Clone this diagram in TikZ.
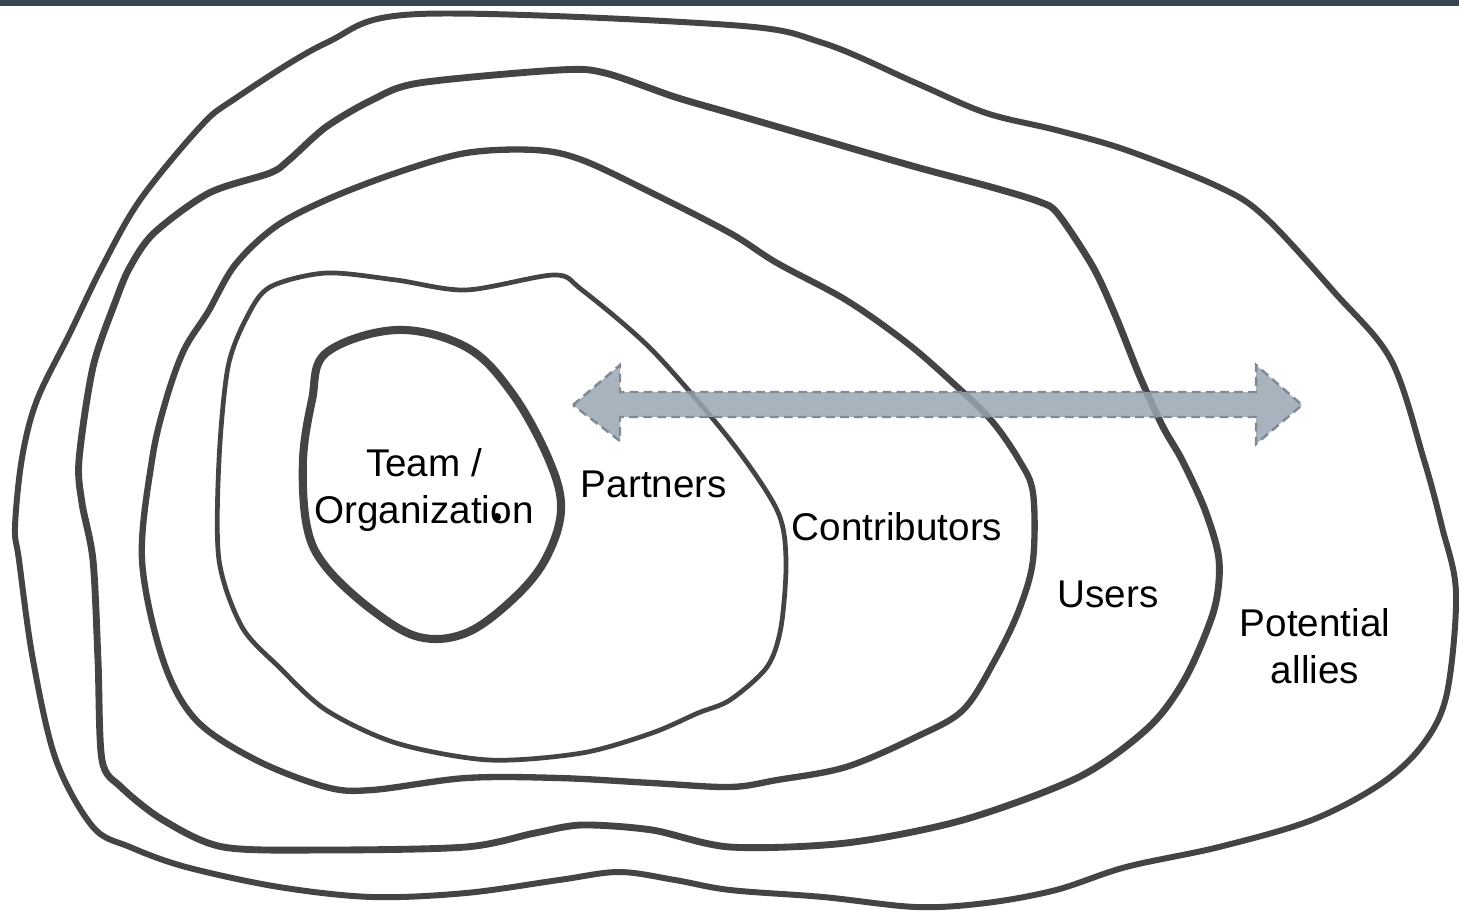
\documentclass[tikz,border=0pt]{standalone}
\usepackage{fontspec}
\setmainfont{Liberation Sans}
\usepackage{tikz}

\definecolor{ringgray}{HTML}{444444}
\definecolor{topbar}{HTML}{36464F}
\definecolor{arrowfill}{HTML}{9AA6B3}
\definecolor{arrowedge}{HTML}{7F8A96}

\begin{document}
\begin{tikzpicture}[x=0.02cm, y=-0.02cm,
  ring/.style={draw=ringgray, line join=round, line cap=round},
  lbl/.style={font=\fontsize{22}{27}\selectfont, align=center, inner sep=0pt, text=black}]
\useasboundingbox (0,0) rectangle (1459,919);
\fill[topbar] (0,0) rectangle (1459,6);

\draw[ring, line width=3.4pt] plot[smooth cycle, tension=0.55] coordinates {
  (419,14) (730,25) (823,43) (916,83) (986,113) (1056,130) (1126,150) (1219,187)
  (1265,217) (1335,293) (1391,360) (1424,460) (1442,527) (1456,593) (1447,693)
  (1424,743) (1382,783) (1312,820) (1219,847) (1126,867) (1056,890) (986,903)
  (916,907) (823,897) (730,890) (675,880) (619,872) (559,880) (466,893) (372,897)
  (279,887) (186,867) (130,847) (93,827) (56,760) (33,660) (19,560) (15,527)
  (22,458) (37,400) (70,333) (102,267) (140,200) (200,127) (233,100) (326,43)};

\draw[ring, line width=3.9pt] plot[smooth cycle, tension=0.5] coordinates {
  (559,70) (605,73) (675,97) (730,113) (823,140) (916,167) (991,187) (1040,202)
  (1058,214) (1093,267) (1116,317) (1140,377) (1163,427) (1182,460) (1205,510)
  (1219,560) (1214,610) (1186,677) (1149,727) (1079,777) (963,820) (846,843)
  (730,847) (652,830) (582,825) (535,833) (466,847) (326,850) (223,847) (163,820)
  (121,787) (102,760) (98,660) (93,560) (82,503) (79,460) (93,367) (116,300)
  (130,267) (154,233) (209,193) (270,173) (289,160) (326,127) (372,100) (419,83)};

\draw[ring, line width=3.6pt] plot[smooth cycle, tension=0.55] coordinates {
  (535,150) (582,160) (652,193) (730,233) (777,263) (846,300) (907,343) (953,383)
  (991,420) (1019,460) (1033,493) (1033,560) (1019,610) (995,660) (963,710)
  (916,737) (846,767) (777,780) (730,787) (652,783) (559,778) (466,778) (372,790)
  (326,787) (256,760) (196,720) (163,660) (142,560) (152,460) (166,400) (184,350)
  (208,312) (235,265) (275,227) (326,200) (396,173) (466,153)};

\draw[ring, line width=2.7pt] plot[smooth cycle, tension=0.5] coordinates {
  (554,275) (582,290) (652,350) (730,440) (777,510) (786,560) (781,627) (767,667)
  (730,700) (698,713) (652,733) (582,753) (489,760) (396,743) (326,710) (279,667)
  (242,627) (219,560) (219,460) (228,367) (247,317) (270,287) (326,273) (396,280)
  (466,290)};

\draw[ring, line width=4.6pt] plot[smooth cycle, tension=0.6] coordinates {
  (396,330) (466,347) (512,393) (549,460) (561,510) (545,560) (512,600) (466,633)
  (419,637) (372,610) (326,567) (307,527) (303,460) (312,400) (326,353)};

\draw[arrowedge, line width=1.4pt, dash pattern=on 5pt off 3pt, fill=arrowfill, fill opacity=0.85]
  (573,405) -- (620,365) -- (620,392) -- (1256,392) -- (1256,365) -- (1302,405)
  -- (1256,444) -- (1256,417) -- (620,417) -- (620,441) -- cycle;

\node[lbl] (team) at (424,490) {Team /\\Organization};
\fill[black] (497,517) circle[radius=2.3pt];
\node[lbl, anchor=base] (partners) at (654,497) {Partners};
\node[lbl, anchor=base] (contrib) at (897,540) {Contributors};
\node[lbl, anchor=base] (users) at (1108,607) {Users};
\node[lbl] (allies) at (1315,646) {Potential\\allies};
\end{tikzpicture}
\end{document}
